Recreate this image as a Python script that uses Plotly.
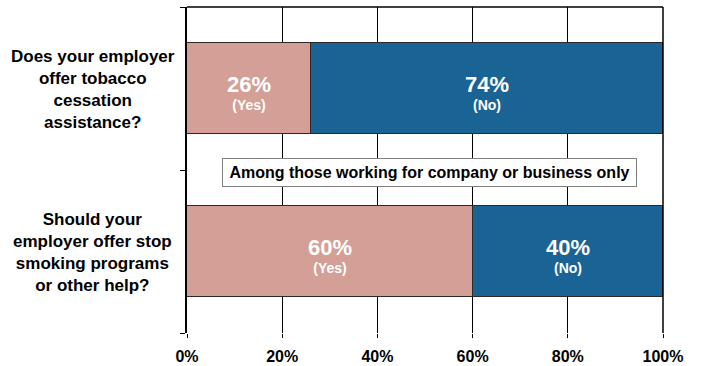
import plotly.graph_objects as go

# Survey questions (top to bottom) and answer shares in percent
questions = [
    "Does your employer<br>offer tobacco<br>cessation<br>assistance?",
    "Should your<br>employer offer stop<br>smoking programs<br>or other help?",
]
yes_pct = [26, 60]
no_pct = [74, 40]
answer_names = ["Yes", "No"]
x_ticks = [0, 20, 40, 60, 80, 100]
note_text = "Among those working for company or business only"

FONT = "Liberation Sans, Arial, sans-serif"
PINK = "#D39F96"
BLUE = "#1A6395"

ypos = list(range(len(questions)))

fig = go.Figure()
for vals, color in [(yes_pct, PINK), (no_pct, BLUE)]:
    fig.add_trace(go.Bar(
        y=ypos, x=vals, orientation="h", width=0.56,
        marker=dict(color=color, line=dict(color="#2a2a2a", width=1)),
        hoverinfo="skip", showlegend=False,
    ))

annotations = []
# value labels centred in each segment: big percentage over the answer name
for i in ypos:
    segs = [(0, yes_pct[i], answer_names[0]), (yes_pct[i], no_pct[i], answer_names[1])]
    for start, val, name in segs:
        mid = start + val / 2
        annotations.append(dict(
            x=mid, y=i, xref="x", yref="y",
            text=f"<span style='font-size:22px'><b>{val}%</b></span><br><b>({name})</b>",
            showarrow=False, align="center", yshift=-4,
            font=dict(family=FONT, size=14, color="white"),
        ))

# question labels on the left, centred
for i, q in enumerate(questions):
    annotations.append(dict(
        x=-0.198, y=i, xref="paper", yref="y", text=f"<b>{q}</b>",
        showarrow=False, align="center", xanchor="center", yshift=-1,
        font=dict(family=FONT, size=17, color="black"),
    ))

# boxed note between the bars
annotations.append(dict(
    x=50.9, y=0.515, xref="x", yref="y", text=f"<b>{note_text}</b>",
    showarrow=False, bgcolor="white", bordercolor="#7f7f7f", borderwidth=1,
    borderpad=2, width=409, height=23,
    font=dict(family=FONT, size=16, color="black"),
))

fig.update_layout(
    width=701, height=366,
    margin=dict(l=187, r=38, t=7, b=33),
    barmode="stack", bargap=0,
    plot_bgcolor="white", paper_bgcolor="white",
    annotations=annotations,
    shapes=[
        dict(type="line", xref="paper", yref="paper", x0=0, x1=1, y0=1, y1=1,
             line=dict(color="black", width=1.5)),
        dict(type="line", xref="paper", yref="paper", x0=1, x1=1, y0=0, y1=1,
             line=dict(color="black", width=1.5)),
    ],
    xaxis=dict(
        range=[0, 100], tickvals=x_ticks,
        ticktext=[f"<b>{t}%</b>" for t in x_ticks],
        showgrid=True, gridcolor="black", gridwidth=1, zeroline=False,
        ticks="outside", ticklen=4, tickcolor="black", tickwidth=1,
        ticklabelstandoff=5, automargin=False,
        tickfont=dict(family=FONT, size=16, color="black"),
        showline=False, fixedrange=True,
    ),
    yaxis=dict(
        range=[1.5, -0.5], tickvals=[-0.5, 0.5, 1.5], showticklabels=False,
        ticks="outside", ticklen=5, tickcolor="black", tickwidth=1,
        showgrid=False, zeroline=False, automargin=False,
        showline=True, linecolor="black", linewidth=2, fixedrange=True,
    ),
)

fig.write_html("out.html")
